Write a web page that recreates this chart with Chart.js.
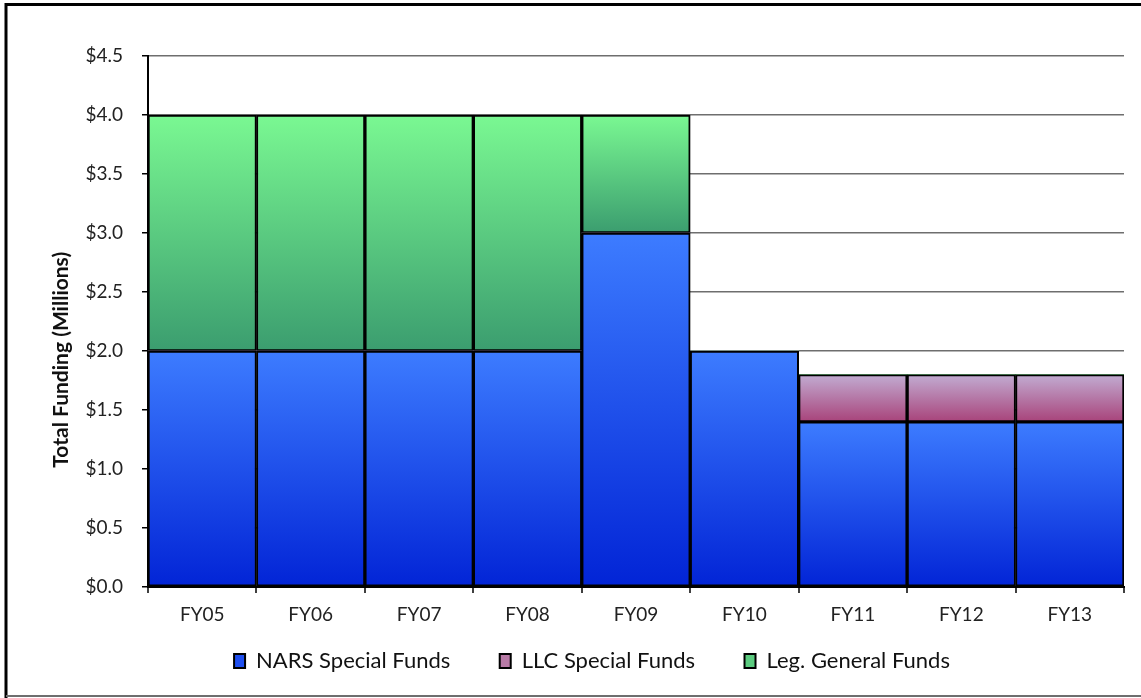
<!DOCTYPE html>
<html>
<head>
<meta charset="utf-8">
<style>
  html, body { margin: 0; padding: 0; background: #ffffff; }
  #wrap { position: relative; width: 1141px; height: 698px; }
  canvas { display: block; }
</style>
<script src="https://cdn.jsdelivr.net/npm/chart.js@4/dist/chart.umd.min.js"></script>
</head>
<body>
<div id="wrap"><canvas id="chart" width="1141" height="698"></canvas></div>
<script>
// Fiscal years on the category axis
const fiscalYears = ['FY05', 'FY06', 'FY07', 'FY08', 'FY09', 'FY10', 'FY11', 'FY12', 'FY13'];

// Funding by source, in millions of dollars
const narsSpecialFunds = [2.0, 2.0, 2.0, 2.0, 3.0, 2.0, 1.4, 1.4, 1.4];
const llcSpecialFunds  = [0, 0, 0, 0, 0, 0, 0.4, 0.4, 0.4];
const legGeneralFunds  = [2.0, 2.0, 2.0, 2.0, 1.0, 0, 0, 0, 0];

// Value axis ticks
const yTicks = [0, 0.5, 1.0, 1.5, 2.0, 2.5, 3.0, 3.5, 4.0, 4.5];

const seriesNames = ['NARS Special Funds', 'LLC Special Funds', 'Leg. General Funds'];
const seriesValues = [narsSpecialFunds, llcSpecialFunds, legGeneralFunds];

// top / bottom shades of each segment gradient
const shades = [
  ['#3d7cff', '#0224d6'],
  ['#c2acd2', '#a8437a'],
  ['#7af892', '#3b9d6f']
];
const legendFill = ['#1f4ff0', '#b87aa6', '#5ccc80'];

const FONT = 'Lato, "Noto Sans", sans-serif';

function segmentGradient(ctx) {
  const chart = ctx.chart;
  const ds = ctx.datasetIndex;
  const i = ctx.dataIndex;
  const yScale = chart.scales && chart.scales.y;
  if (i === undefined || !yScale || !chart.chartArea) return shades[ds][0];
  let base = 0;
  for (let k = 0; k < ds; k++) base += seriesValues[k][i];
  const top = base + seriesValues[ds][i];
  const yTop = yScale.getPixelForValue(top);
  const yBot = yScale.getPixelForValue(base);
  if (!isFinite(yTop) || !isFinite(yBot) || yTop === yBot) return shades[ds][0];
  const g = chart.ctx.createLinearGradient(0, yTop, 0, yBot);
  g.addColorStop(0, shades[ds][0]);
  g.addColorStop(1, shades[ds][1]);
  return g;
}

const datasets = seriesNames.map((name, s) => ({
  label: name,
  data: seriesValues[s],
  backgroundColor: segmentGradient,
  borderColor: '#000000',
  borderWidth: (ctx) => (ctx.raw ? 2 : 0),
  borderSkipped: false,
  barPercentage: 1.0,
  categoryPercentage: 1.0
}));

// page frame around the whole chart
const framePlugin = {
  id: 'frame',
  afterDraw(chart) {
    const c = chart.ctx;
    c.save();
    c.strokeStyle = '#000000';
    c.lineWidth = 3;
    c.beginPath();
    c.moveTo(6, 698);
    c.lineTo(6, 4.5);
    c.lineTo(1141, 4.5);
    c.stroke();
    c.strokeStyle = '#6e6e6e';
    c.lineWidth = 2;
    c.beginPath();
    c.moveTo(6, 696);
    c.lineTo(1141, 696);
    c.stroke();
    c.restore();
  }
};

// nudge the legend row to the right of the page centre
const legendShift = {
  id: 'legendShift',
  afterLayout(chart) {
    if (chart.legend) {
      chart.legend.left += 25;
      chart.legend.right += 25;
    }
  }
};

// wider gap after the first two legend entries
const legendGap = '       ';

new Chart(document.getElementById('chart'), {
  type: 'bar',
  data: { labels: fiscalYears, datasets },
  plugins: [framePlugin, legendShift],
  options: {
    responsive: false,
    animation: false,
    layout: { padding: { left: 10, top: 56, right: 17, bottom: 16 } },
    plugins: {
      tooltip: { enabled: false },
      legend: {
        position: 'bottom',
        labels: {
          font: { family: FONT, size: 22 },
          color: '#111111',
          boxWidth: 11,
          boxHeight: 14,
          padding: 10,
          generateLabels: () => seriesNames.map((n, s) => ({
            text: s < seriesNames.length - 1 ? n + legendGap : n,
            fillStyle: legendFill[s],
            strokeStyle: '#000000',
            lineWidth: 2,
            datasetIndex: s,
            fontColor: '#111111'
          }))
        }
      }
    },
    scales: {
      x: {
        stacked: true,
        afterFit(scale) { scale.height = 53; },
        border: { display: true, color: '#000000', width: 2 },
        grid: {
          offset: true,
          drawOnChartArea: true,
          drawTicks: true,
          tickLength: 6,
          tickColor: '#000000',
          tickWidth: 1.5,
          lineWidth: 2,
          color: (ctx) => (ctx.index === fiscalYears.length ? '#a0a0a0' : 'rgba(0,0,0,0)')
        },
        ticks: {
          font: { family: FONT, size: 19 },
          color: '#222222',
          padding: 10,
          maxRotation: 0,
          autoSkip: false
        }
      },
      y: {
        stacked: true,
        min: 0,
        max: 4.5,
        afterFit(scale) { scale.width = 138; },
        afterBuildTicks(scale) { scale.ticks = yTicks.map(v => ({ value: v })); },
        border: { display: true, color: '#000000', width: 2 },
        grid: {
          drawTicks: true,
          tickLength: 6,
          tickColor: '#000000',
          tickWidth: 1.5,
          lineWidth: 1.5,
          color: '#6e6e6e'
        },
        ticks: {
          font: { family: FONT, size: 19 },
          color: '#222222',
          padding: 19,
          callback: (v) => '$' + Number(v).toFixed(1)
        },
        title: {
          display: true,
          text: 'Total Funding (Millions)               ',
          font: { family: FONT, size: 21, weight: 'bold' },
          color: '#111111',
          padding: { top: 39, bottom: 0 }
        }
      }
    }
  }
});
</script>
</body>
</html>
